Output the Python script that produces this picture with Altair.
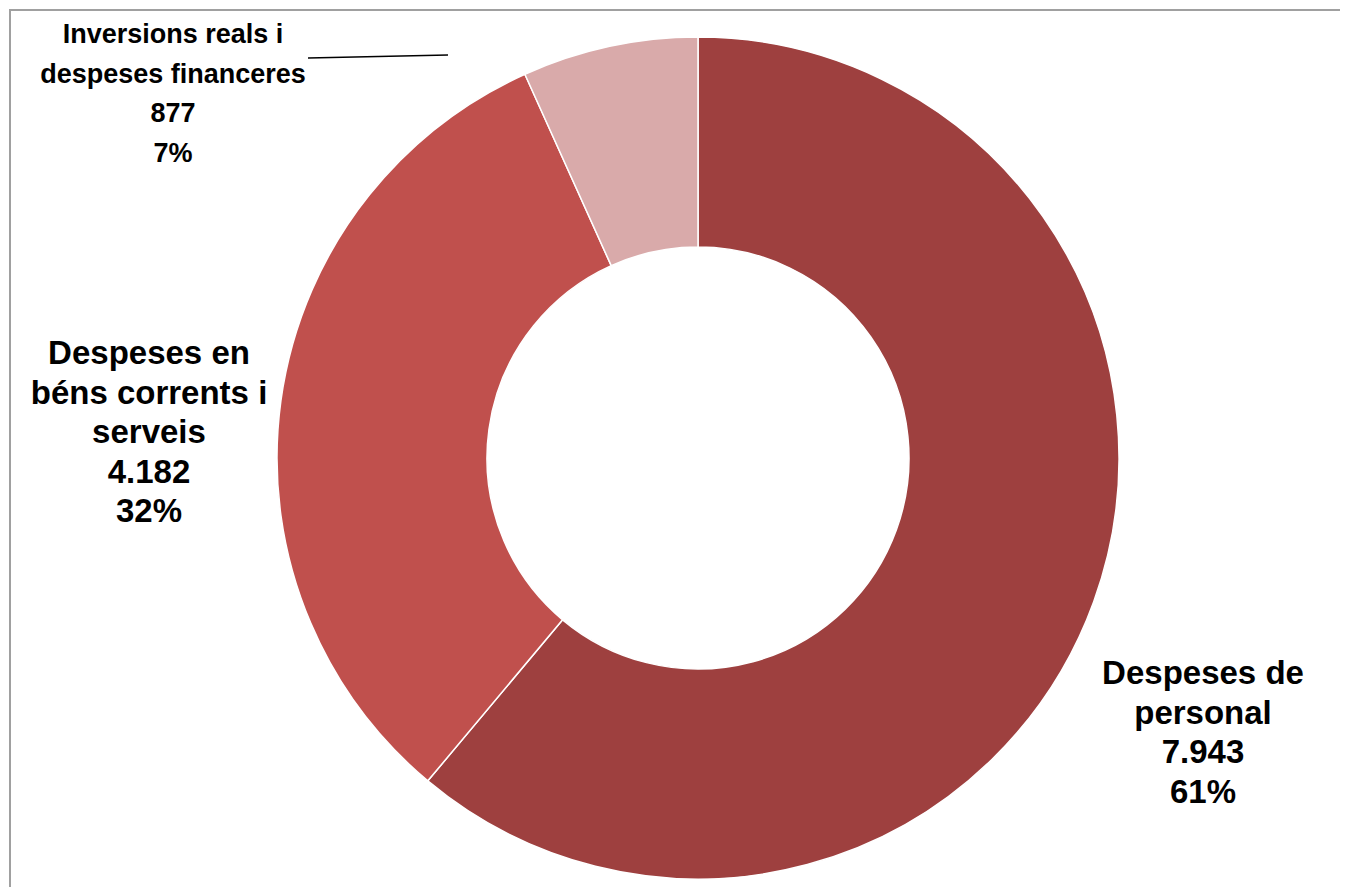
import altair as alt
import pandas as pd

categories = ["Despeses de personal",
              "Despeses en béns corrents i serveis",
              "Inversions reals i despeses financeres"]
label_lines = ["Despeses de\npersonal",
               "Despeses en\nbéns corrents i\nserveis",
               "Inversions reals i\ndespeses financeres"]
values = [7943, 4182, 877]
colors = ["#9E403F", "#C0504D", "#D9AAAA"]

total = sum(values)


def fmt(v):
    return f"{v:,}".replace(",", ".")


df = pd.DataFrame({
    "cat": categories,
    "value": values,
    "idx": list(range(len(values))),
    "label": [f"{l}\n{fmt(v)}\n{round(v * 100 / total)}%" for l, v in zip(label_lines, values)],
})

W, H = 1332, 879
CX, CY = 689, 449

base = alt.Chart(df)

donut = base.mark_arc(radius=421, innerRadius=211, stroke="white", strokeWidth=1.5).encode(
    theta=alt.Theta("value:Q", stack=True),
    order=alt.Order("idx:O"),
    color=alt.Color("cat:N", scale=alt.Scale(domain=categories, range=colors), legend=None),
    x=alt.value(CX),
    y=alt.value(CY),
)

label_pos = [(1194, 675, 33),
             (140, 355, 33),
             (164, 34, 27)]

texts = []
for cat, (lx, ly, fs) in zip(categories, label_pos):
    texts.append(
        base.transform_filter(alt.datum.cat == cat).mark_text(
            font="Liberation Sans", fontSize=fs, fontWeight="bold", lineBreak="\n",
            lineHeight=39.5, align="center", baseline="alphabetic", color="black",
        ).encode(text="label:N", x=alt.value(lx), y=alt.value(ly))
    )

dummy = alt.Chart(pd.DataFrame({"a": [0]}))
leader = dummy.mark_rule(color="black", strokeWidth=1.5).encode(
    x=alt.value(299), y=alt.value(49), x2=alt.value(439), y2=alt.value(46))
frame_top = dummy.mark_rule(color="#A0A0A0", strokeWidth=2).encode(
    x=alt.value(0), x2=alt.value(W), y=alt.value(1))
frame_left = dummy.mark_rule(color="#A0A0A0", strokeWidth=2).encode(
    x=alt.value(1), y=alt.value(0), y2=alt.value(H))

chart = alt.layer(frame_top, frame_left, donut, leader, *texts).properties(
    width=W, height=H, padding=0,
    autosize=alt.AutoSizeParams(type="fit", contains="padding"),
).configure_view(stroke=None)

chart.save("out.html", embed_options={"renderer": "svg", "actions": False})
